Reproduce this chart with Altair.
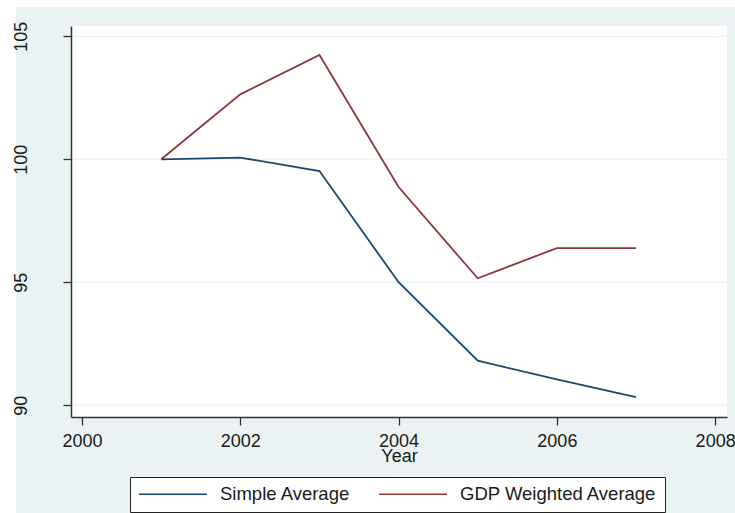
import altair as alt
import pandas as pd

years = [2001, 2002, 2003, 2004, 2005, 2006, 2007]
simple_avg = [100.0, 100.07, 99.52, 95.0, 91.81, 91.05, 90.33]
gdp_weighted = [100.0, 102.64, 104.24, 98.87, 95.16, 96.39, 96.39]
series_names = ["Simple Average", "GDP Weighted Average"]
series_colors = ["#1A476F", "#90353B"]
x_ticks = [2000, 2002, 2004, 2006, 2008]
y_ticks = [90, 95, 100, 105]

rows = []
for y, v in zip(years, simple_avg):
    rows.append({"Year": y, "value": v, "series": series_names[0]})
for y, v in zip(years, gdp_weighted):
    rows.append({"Year": y, "value": v, "series": series_names[1]})
df = pd.DataFrame(rows)

FONT = "Liberation Sans"
TXT = "#1a1a1a"
W, H = 656, 391
y_scale = alt.Scale(domain=[89.52, 105.42], nice=False, zero=False)
y_axis = alt.Axis(values=y_ticks, format="d", title=None, grid=False, zindex=1,
                  labelAngle=270, labelAlign="center", labelBaseline="alphabetic",
                  labelFontSize=18, labelFont=FONT, labelColor=TXT,
                  labelPadding=37, labelFlush=False,
                  tickSize=8, tickColor="#333333", tickWidth=1.3,
                  domainColor="#333333", domainWidth=1.5)

lines = alt.Chart(df).mark_line(strokeWidth=1.8, clip=True).encode(
    x=alt.X("Year:Q",
            scale=alt.Scale(domain=[1999.86, 2008.15], nice=False, zero=False),
            axis=alt.Axis(values=x_ticks, format="d", title="Year", grid=False,
                          labelFontSize=18, labelFont=FONT, labelColor=TXT,
                          labelPadding=7, labelBaseline="top", labelFlush=False,
                          tickSize=8, tickColor="#333333", tickWidth=1.3,
                          domainColor="#333333", domainWidth=1.5,
                          titleFontSize=18, titleFont=FONT, titleColor=TXT,
                          titleFontWeight="normal", titleBaseline="top", titleY=30)),
    y=alt.Y("value:Q", scale=y_scale, axis=y_axis),
    color=alt.Color("series:N",
                    scale=alt.Scale(domain=series_names, range=series_colors),
                    legend=alt.Legend(title=None, orient="none", direction="horizontal",
                                      legendX=59, legendY=451,
                                      symbolType="stroke", symbolSize=4624,
                                      symbolStrokeWidth=1.3, clipHeight=18,
                                      labelFontSize=18.5, labelFont=FONT, labelColor=TXT,
                                      labelOffset=12, columnPadding=27, padding=8,
                                      fillColor="white", strokeColor="#222222",
                                      cornerRadius=0, labelLimit=400)),
)

grid = alt.Chart(pd.DataFrame({"v": y_ticks})).mark_rule(color="#E6EEF1", strokeWidth=1).encode(
    y=alt.Y("v:Q", scale=y_scale, axis=y_axis))

strip_df = pd.DataFrame({"k": [0]})
left_strip = alt.Chart(strip_df).mark_rect(color="white").encode(
    x=alt.value(-71), x2=alt.value(-55), y=alt.value(-26), y2=alt.value(487))
top_strip = alt.Chart(strip_df).mark_rect(color="white").encode(
    x=alt.value(-71), x2=alt.value(664), y=alt.value(-26), y2=alt.value(-19))

chart = alt.layer(left_strip, top_strip, grid, lines).properties(
    width=W, height=H,
    autosize=alt.AutoSizeParams(type="none"),
    padding={"left": 71, "top": 26, "right": 8, "bottom": 96},
    background="#EAF2F3",
).configure_view(fill="white", stroke=None)

chart.save("out.html", embed_options={"renderer": "svg", "actions": False})
